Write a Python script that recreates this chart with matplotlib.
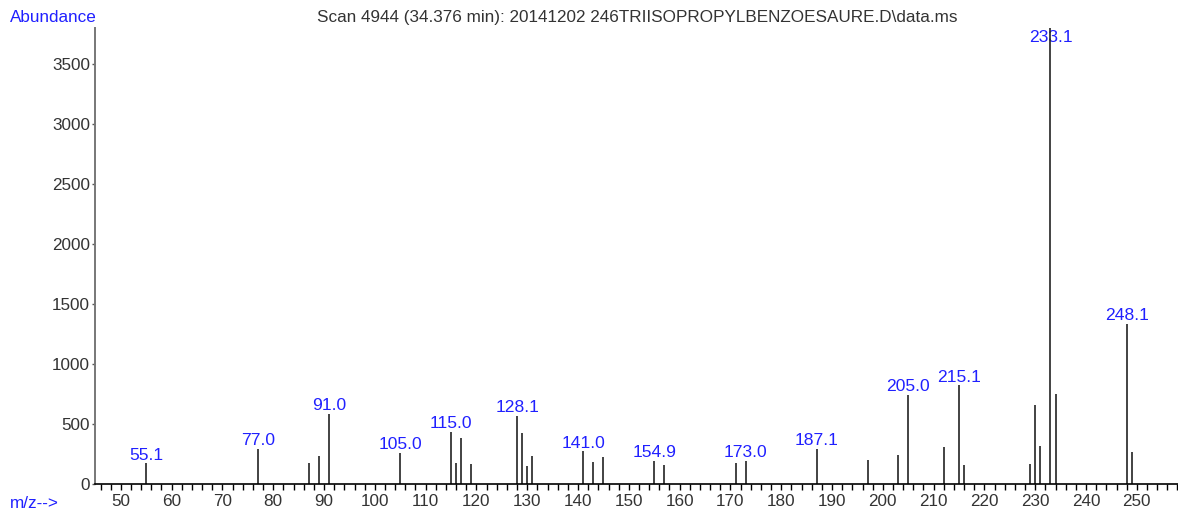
import matplotlib.pyplot as plt
from matplotlib.ticker import MultipleLocator

# Peak list: m/z and abundance
mz = [55, 77, 87, 89, 91, 105, 115, 116, 117, 119, 128, 129, 130, 131,
      141, 143, 145, 155, 157, 171, 173, 187, 197, 203, 205, 212, 215, 216,
      229, 230, 231, 233, 234, 248, 249]
abundance = [172, 289, 178, 233, 583, 261, 433, 178, 383, 167, 567, 428, 150, 233,
             272, 183, 228, 194, 156, 178, 194, 294, 200, 244, 744, 306, 822, 161,
             167, 658, 317, 3800, 747, 1333, 269]

# Labelled peaks (position, text)
label_mz = [55, 77, 91, 105, 115, 128, 141, 155, 173, 187, 205, 215, 233, 248]
label_text = ['55.1', '77.0', '91.0', '105.0', '115.0', '128.1', '141.0', '154.9',
              '173.0', '187.1', '205.0', '215.1', '233.1', '248.1']

title = 'Scan 4944 (34.376 min): 20141202 246TRIISOPROPYLBENZOESAURE.D\\data.ms'

plt.rcParams['font.family'] = ['Liberation Sans', 'DejaVu Sans']
blue = '#2020ff'
grey = '#333333'

fig = plt.figure(figsize=(11.78, 5.16), dpi=100)
ax = fig.add_axes([0.0806, 0.062, 0.9194, 0.8837])

ax.vlines(mz, 0, abundance, colors='#222222', linewidth=1.2, zorder=2)

ymax = 3800
peak_of = dict(zip(mz, abundance))
for m, t in zip(label_mz, label_text):
    h = peak_of[m]
    # push labels that would leave the plot down inside it
    dy = 6 if h < ymax * 0.95 else -6.5
    ax.annotate(t, (m, h), xytext=(0, dy), textcoords='offset points',
                ha='center', va='center', color=blue, fontsize=12.6, zorder=1)

ax.set_xlim(44.9, 258.1)
ax.set_ylim(0, ymax)

ax.xaxis.set_major_locator(MultipleLocator(10))
ax.xaxis.set_minor_locator(MultipleLocator(2))
ax.set_yticks(range(0, 4000, 500))

ax.tick_params(axis='x', which='both', direction='out', length=4, width=1,
               color='black', labelsize=12.3, labelcolor=grey, pad=3)
ax.tick_params(axis='y', direction='out', length=2.5, width=1,
               color='#555555', labelsize=12.3, labelcolor=grey, pad=1)

for s in ('top', 'right'):
    ax.spines[s].set_visible(False)
ax.spines['left'].set_color('#777777')
ax.spines['left'].set_linewidth(1.4)
ax.spines['bottom'].set_color('black')
ax.spines['bottom'].set_linewidth(1.2)

fig.text(0.0085, 0.967, 'Abundance', color=blue, fontsize=12.3, ha='left', va='center')
fig.text(0.0085, 0.025, 'm/z-->', color=blue, fontsize=12.3, ha='left', va='center')
fig.text(0.541, 0.967, title, color=grey, fontsize=12.3, ha='center', va='center')

fig.savefig('out.png', dpi=100)
